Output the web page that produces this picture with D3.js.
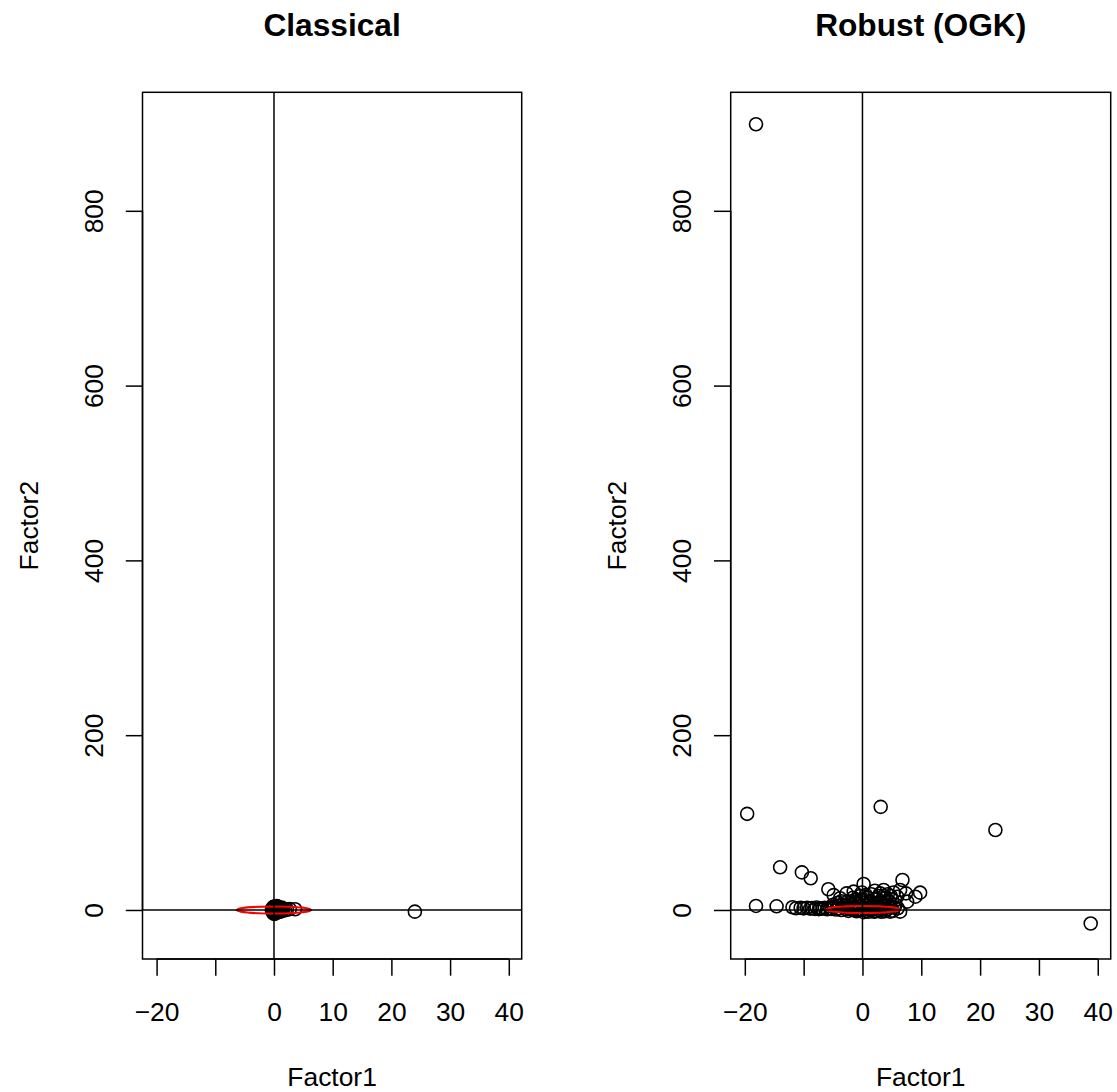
<!DOCTYPE html>
<html>
<head>
<meta charset="utf-8">
<script src="https://cdn.jsdelivr.net/npm/d3@7"></script>
<style>
  html, body { margin: 0; padding: 0; background: #fff; }
  svg { display: block; font-family: "Liberation Sans", Arial, Helvetica, sans-serif; }
</style>
</head>
<body>
<svg id="chart" width="1117" height="1092"></svg>
<script>
// ---------------- data ----------------
const panelTitles = ["Classical", "Robust (OGK)"];
const xLabel = "Factor1";
const yLabel = "Factor2";
const xTicks = [-20, -10, 0, 10, 20, 30, 40];
const xTickLabels = ["\u221220", "", "0", "10", "20", "30", "40"];
const yTicks = [0, 200, 400, 600, 800];
const xLimits = [-22.4, 42.2];
const yLimits = [-56.1, 935.6];

// classical factor scores [Factor1, Factor2]
const classicalScores = [
  [24.0, -1.9], [3.6, 0.8], [2.7, 1.0], [2.2, 0.5], [1.9, -0.3], [1.6, 1.2],
  [1.4, -1.0], [1.2, 2.0], [1.0, 0.3], [0.9, -2.2], [0.8, 3.0], [0.7, 1.5],
  [0.6, -0.8], [0.5, 4.2], [0.4, -3.1], [0.3, 2.6], [0.2, -4.2], [0.1, 0.9],
  [0.0, 0.0], [-0.1, 3.5], [-0.2, -2.0], [-0.3, 1.8], [-0.35, -0.5], [0.05, -3.8],
  [0.15, 4.0], [0.25, -1.4], [0.35, 0.4], [0.45, 2.2], [0.55, -2.8], [0.65, 3.4],
  [0.75, -0.2], [0.85, 1.1], [1.1, -1.8], [1.3, 2.8], [1.5, 0.6], [0.0, -4.5],
  [0.1, 2.0], [-0.2, -3.0], [0.3, -1.0], [0.6, 3.8], [0.9, 0.8], [1.2, -0.6],
  [-0.1, 1.3], [0.2, -2.4], [0.4, 4.5]
];

// robust (OGK) factor scores [Factor1, Factor2]
const robustScores = [
  [-18.1, 899], [-19.6, 110], [3.1, 118], [22.6, 91.5], [38.8, -15.5],
  [-14.0, 48.8], [-10.3, 43], [-8.8, 36.3], [-5.8, 23.7], [-4.9, 17], [0.2, 29.7],
  [6.8, 34.3], [9.8, 19.8], [9.0, 15.2], [7.4, 19], [6.4, 22.9], [5.9, 15.2],
  [7.6, 9.5], [6.4, -1.9], [4.7, -1.9], [3.6, 22.9],
  [-18.1, 4.6], [-14.6, 4.2], [-11.9, 3.1], [-11.3, 2.0], [-10.5, 2.5], [-10.0, 1.8],
  [-9.4, 2.6], [-8.9, 1.5], [-8.6, 2.2], [-8.1, 1.2], [-7.8, 2.8], [-7.4, 1.0],
  [-7.2, 2.0], [-6.8, 1.5], [-6.4, 2.4], [-6.0, 0.8], [-5.5, 2.0], [-5.2, 1.2],
  [-4.8, 3.5], [-4.5, 0.5],
  [-4.3, 8], [-3.8, 13.4], [-3.3, 6], [-2.7, 19], [-2.5, 10], [-2.0, 4], [-1.5, 21],
  [-1.2, 12], [-0.8, 7], [-0.4, 16], [0.0, 10], [0.5, 5], [0.8, 14], [1.2, 9],
  [1.5, 18], [1.8, 3], [2.0, 12], [2.5, 7], [2.8, 16], [3.2, 10], [3.8, 5], [4.0, 14],
  [4.3, 18], [4.6, 9], [4.8, 3], [5.0, 12], [5.3, 20], [5.6, 6], [6.0, 2],
  [-4.0, 2], [-3.6, 0], [-3.2, 3], [-2.8, 1], [-2.4, -1], [-2.0, 1.5], [-1.6, 0],
  [-1.2, 2.5], [-0.8, -0.5], [-0.4, 1], [0, 0], [0.3, 2], [0.6, -1], [1.0, 1],
  [1.4, -0.5], [1.8, 0.8], [2.2, -1], [2.6, 1.5], [3.0, -0.5], [3.4, 1], [3.8, -1.5],
  [4.2, 0.5], [5.2, -1], [-3.0, 5], [-1.8, 6], [-0.6, 4], [0.6, 5.5], [1.6, 4.5],
  [2.4, 3.5], [3.4, 4], [-2.2, 8], [-1.0, 9], [0.2, 8], [1.4, 7], [2.8, 9], [3.6, 7],
  [4.4, 6], [-3.6, 10], [-1.6, 14], [-0.2, 12], [0.6, 17], [2.4, 13], [3.0, 19],
  [3.6, 16], [4.8, 16], [-0.1, 20], [2.1, 22], [1.0, -2], [2.0, -2], [3.2, -2],
  [-1.0, -1.5], [0.2, -2.5], [5.4, 3], [-5.0, 6], [-4.0, 5]
];

// tolerance ellipses: [centerX, centerY, semiAxisX, semiAxisY]
const classicalEllipse = [0, 0, 6.35, 4.0];
const robustEllipse = [0.1, 0.6, 6.3, 4.0];

// ---------------- drawing ----------------
const svg = d3.select("#chart");
const fontSize = 26.4;
const boxTop = 92.3, boxBottom = 959;
const panels = [
  { title: panelTitles[0], data: classicalScores, ell: classicalEllipse, left: 142.5, right: 521.7 },
  { title: panelTitles[1], data: robustScores, ell: robustEllipse, left: 730.7, right: 1110.7 }
];

const yScale = d3.scaleLinear().domain(yLimits).range([boxBottom, boxTop]);

panels.forEach((p, i) => {
  const x = d3.scaleLinear().domain(xLimits).range([p.left, p.right]);
  const g = svg.append("g");
  const clipId = "clip" + i;
  svg.append("clipPath").attr("id", clipId)
    .append("rect").attr("x", p.left).attr("y", boxTop)
    .attr("width", p.right - p.left).attr("height", boxBottom - boxTop);

  const plot = g.append("g").attr("clip-path", `url(#${clipId})`);

  // points
  plot.selectAll("circle.pt").data(p.data).enter().append("circle")
    .attr("class", "pt")
    .attr("cx", d => x(d[0])).attr("cy", d => yScale(d[1]))
    .attr("r", 6.5)
    .attr("fill", "none").attr("stroke", "#000").attr("stroke-width", 1.6);

  // ellipse
  const e = p.ell;
  plot.append("ellipse")
    .attr("cx", x(e[0])).attr("cy", yScale(e[1]))
    .attr("rx", x(e[0] + e[2]) - x(e[0]))
    .attr("ry", yScale(e[1]) - yScale(e[1] + e[3]))
    .attr("fill", "none").attr("stroke", "#ff0000").attr("stroke-width", 2);

  // reference lines at 0
  plot.append("line")
    .attr("x1", p.left).attr("x2", p.right)
    .attr("y1", yScale(0)).attr("y2", yScale(0))
    .attr("stroke", "#000").attr("stroke-width", 1.5);
  plot.append("line")
    .attr("x1", x(0)).attr("x2", x(0))
    .attr("y1", boxTop).attr("y2", boxBottom)
    .attr("stroke", "#000").attr("stroke-width", 1.5);

  // box
  g.append("rect")
    .attr("x", p.left).attr("y", boxTop)
    .attr("width", p.right - p.left).attr("height", boxBottom - boxTop)
    .attr("fill", "none").attr("stroke", "#000").attr("stroke-width", 1.5);

  // x axis
  const xAxis = d3.axisBottom(x).tickValues(xTicks)
    .tickFormat((d, k) => xTickLabels[k]).tickSize(16.7).tickSizeOuter(0);
  const gx = g.append("g").attr("transform", `translate(0,${boxBottom})`).call(xAxis);
  gx.select(".domain").attr("d", `M${x(xTicks[0])},0H${x(xTicks[xTicks.length - 1])}`)
    .attr("stroke-width", 1.5);
  gx.selectAll(".tick line").attr("stroke-width", 1.5);
  gx.selectAll(".tick text").attr("y", 62).attr("dy", 0)
    .attr("font-size", fontSize).attr("fill", "#000")
    .attr("font-family", "Liberation Sans, Arial, sans-serif");

  // y axis
  const yAxis = d3.axisLeft(yScale).tickValues(yTicks)
    .tickFormat(d3.format("d")).tickSize(16.7).tickSizeOuter(0);
  const gy = g.append("g").attr("transform", `translate(${p.left},0)`).call(yAxis);
  gy.select(".domain").attr("d", `M0,${yScale(yTicks[0])}V${yScale(yTicks[yTicks.length - 1])}`)
    .attr("stroke-width", 1.5);
  gy.selectAll(".tick line").attr("stroke-width", 1.5);
  gy.selectAll(".tick text")
    .attr("transform", "rotate(-90)")
    .attr("x", 0).attr("y", -39.5).attr("dy", 0)
    .attr("text-anchor", "middle")
    .attr("font-size", fontSize).attr("fill", "#000")
    .attr("font-family", "Liberation Sans, Arial, sans-serif");

  // titles
  const cx = (p.left + p.right) / 2;
  g.append("text").attr("x", cx).attr("y", 36)
    .attr("text-anchor", "middle").attr("font-weight", "bold")
    .attr("font-size", fontSize * 1.2).text(p.title);
  g.append("text").attr("x", cx).attr("y", boxBottom + 127)
    .attr("text-anchor", "middle").attr("font-size", fontSize).text(xLabel);
  const ly = (boxTop + boxBottom) / 2;
  g.append("text")
    .attr("transform", `translate(${p.left - 104.6},${ly}) rotate(-90)`)
    .attr("text-anchor", "middle").attr("font-size", fontSize).text(yLabel);
});
</script>
</body>
</html>
